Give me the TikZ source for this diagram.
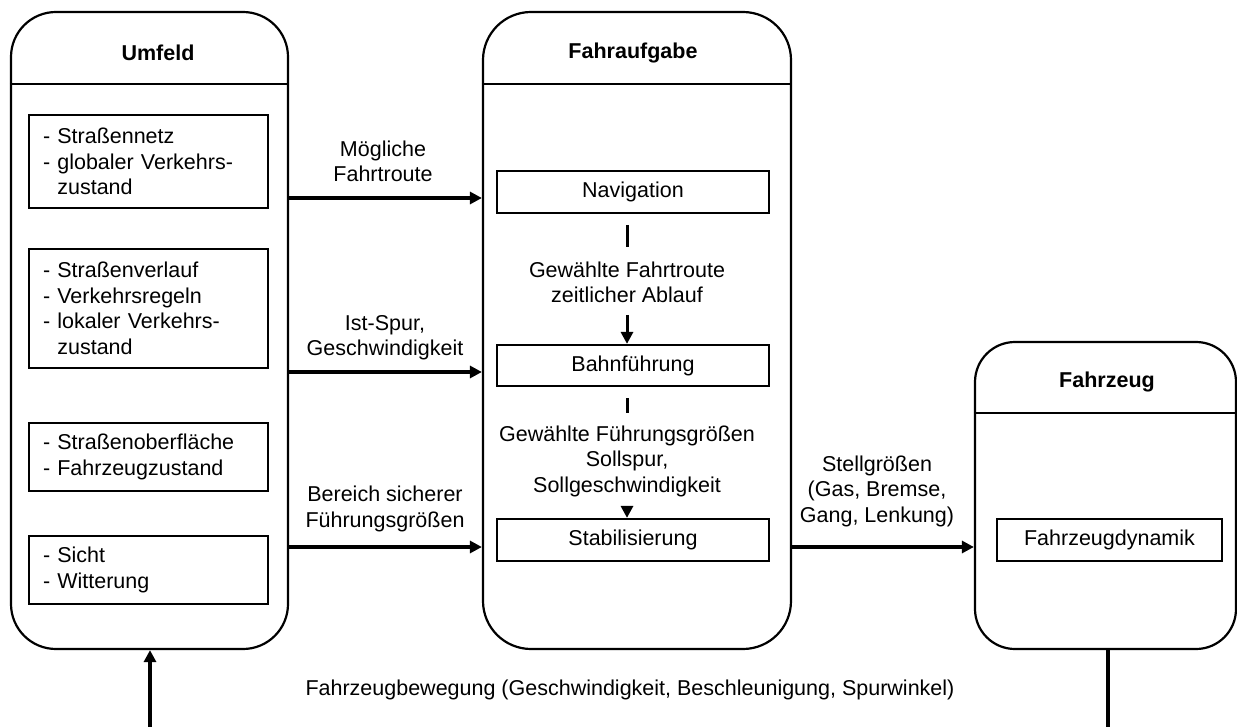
\documentclass[tikz,border=0pt]{standalone}
\usepackage{fontspec}
\setmainfont{Liberation Sans}
\usetikzlibrary{arrows.meta,positioning}

\newcommand{\diafont}{\fontsize{21.5}{25.5}\selectfont}

\tikzset{
  outerbox/.style={draw, rectangle, line width=2.2pt},
  innerbox/.style={draw, rectangle, line width=2.2pt, minimum height=42pt, minimum width=272pt},
  listbox/.style={draw, rectangle, line width=2.2pt, align=left, text width=211pt, inner xsep=14pt, inner ysep=0pt},
  titletext/.style={font=\diafont\bfseries},
  flowlabel/.style={align=center},
  flow/.style={line width=3.4pt, -{Triangle[length=12pt,width=12pt]}},
  tickline/.style={line width=3pt},
}

\begin{document}
\begin{tikzpicture}[x=1pt, y=-1pt, font=\diafont]
\useasboundingbox (0,0) rectangle (1237,727);

% outer boxes
\node (umfeld) [outerbox, rounded corners=45pt, minimum width=277pt, minimum height=637pt] at (149.5,330.5) {};
\node (fahraufgabe) [outerbox, rounded corners=48pt, minimum width=308pt, minimum height=637pt] at (637,330.5) {};
\node (fahrzeug) [outerbox, rounded corners=40pt, minimum width=261pt, minimum height=307pt] at (1105.5,495.5) {};

% titles and header lines
\node (umfeldtitle) [titletext] at (158,53) {Umfeld};
\node (fahrtitle) [titletext] at (633,53) {Fahraufgabe};
\node (fzgtitle) [titletext] at (1107,382) {Fahrzeug};
\coordinate (headtop) at (0,84);
\coordinate (headfzg) at (0,413);
\draw [line width=2.2pt] (umfeld.west |- headtop) -- (umfeld.east |- headtop);
\draw [line width=2.2pt] (fahraufgabe.west |- headtop) -- (fahraufgabe.east |- headtop);
\draw [line width=2.2pt] (fahrzeug.west |- headfzg) -- (fahrzeug.east |- headfzg);

% Umfeld
\node (netz) [listbox, minimum height=93pt] at (148.5,161.5) {- Straßennetz\\- globaler Verkehrs-\\\phantom{- }zustand};
\node (verlauf) [listbox, minimum height=119pt] at (148.5,308.5) {- Straßenverlauf\\- Verkehrsregeln\\- lokaler Verkehrs-\\\phantom{- }zustand};
\node (oberflaeche) [listbox, minimum height=68pt] at (148.5,457) {- Straßenoberfläche\\- Fahrzeugzustand};
\node (sicht) [listbox, minimum height=68pt] at (148.5,570) {- Sicht\\- Witterung};

% Fahraufgabe
\node (nav) [innerbox] at (633,192) {Navigation};
\node (bahn) [innerbox, minimum height=41pt] at (633,365.5) {Bahnführung};
\node (stabil) [innerbox] at (633,540) {Stabilisierung};
\node (route) [flowlabel] at (627,282.5) {Gewählte Fahrtroute\\zeitlicher Ablauf};
\node (fuehrung) [flowlabel] at (627,461) {Gewählte Führungsgrößen\\Sollspur,\\Sollgeschwindigkeit};

% Fahrzeug
\node (dynamik) [innerbox, minimum width=225pt] at (1109.5,540) {Fahrzeugdynamik};

% labels on the arrows
\node (moeglich) [flowlabel] at (383,161.5) {Mögliche\\Fahrtroute};
\node (istspur) [flowlabel] at (385,337.5) {Ist-Spur,\\Geschwindigkeit};
\node (bereich) [flowlabel] at (385,509) {Bereich sicherer\\Führungsgrößen};
\node (stell) [flowlabel] at (877,491) {Stellgrößen\\(Gas, Bremse,\\Gang, Lenkung)};
\node (bewegung) at (630,690) {Fahrzeugbewegung (Geschwindigkeit, Beschleunigung, Spurwinkel)};

% arrows
\coordinate (row1) at (0,198);
\coordinate (row2) at (0,372);
\coordinate (row3) at (0,547);
\draw [flow] (umfeld.east |- row1) -- (fahraufgabe.west |- row1);
\draw [flow] (umfeld.east |- row2) -- (fahraufgabe.west |- row2);
\draw [flow] (umfeld.east |- row3) -- (fahraufgabe.west |- row3);
\draw [flow] (fahraufgabe.east |- row3) -- (fahrzeug.west |- row3);

\coordinate (tickA) at (627,225);
\coordinate (tickAend) at (627,247);
\coordinate (arrA) at (627,315);
\coordinate (tickB) at (627,398);
\coordinate (tickBend) at (627,413);
\coordinate (arrB) at (627,506);
\draw [tickline] (tickA) -- (tickAend);
\draw [flow, line width=3pt] (arrA) -- (arrA |- bahn.north);
\draw [tickline] (tickB) -- (tickBend);
\draw [flow, line width=3pt] (arrB) -- (arrB |- stabil.north);

\coordinate (feedin) at (150,727);
\coordinate (fzgout) at (1108,727);
\draw [flow] (feedin) -- (feedin |- umfeld.south);
\draw [line width=3.4pt] (fzgout |- fahrzeug.south) -- (fzgout);
\end{tikzpicture}
\end{document}
